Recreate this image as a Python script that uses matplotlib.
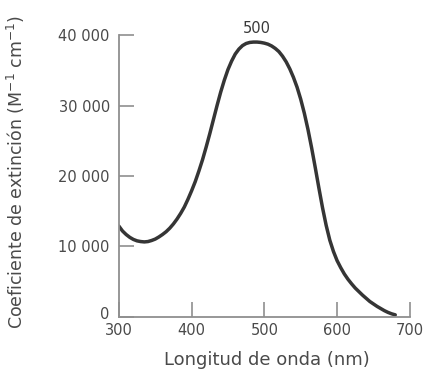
import matplotlib.pyplot as plt
from matplotlib.ticker import FuncFormatter
from matplotlib.transforms import ScaledTranslation

plt.rcParams['font.family'] = ['DejaVu Sans']

# absorption spectrum (nm, M^-1 cm^-1)
wavelength = [300, 305, 310, 315, 320, 325, 330, 335, 340, 345,
              350, 355, 360, 365, 370, 375, 380, 385, 390, 395,
              400, 405, 410, 415, 420, 425, 430, 435, 440, 445,
              450, 455, 460, 465, 470, 475, 480, 485, 490, 495,
              500, 505, 510, 515, 520, 525, 530, 535, 540, 545,
              550, 555, 560, 565, 570, 575, 580, 585, 590, 595,
              600, 605, 610, 615, 620, 625, 630, 635, 640, 645,
              650, 655, 660, 665, 670, 675, 680]
epsilon = [12900, 12200, 11700, 11300, 11000, 10800, 10700, 10650, 10700, 10850,
           11050, 11350, 11700, 12100, 12600, 13200, 13900, 14700, 15600, 16700,
           17900, 19200, 20700, 22300, 24100, 26000, 28000, 30000, 31900, 33600,
           35100, 36300, 37300, 38000, 38500, 38800, 38950, 39000, 39000, 38950,
           38850, 38700, 38450, 38100, 37650, 37000, 36200, 35200, 34000, 32600,
           30900, 28900, 26600, 24000, 21200, 18300, 15500, 13000, 10900, 9300,
           8000, 7000, 6100, 5350, 4700, 4100, 3600, 3100, 2650, 2200,
           1850, 1500, 1200, 900, 650, 450, 300]
x_ticks = [300, 400, 500, 600, 700]
y_ticks = [0, 10000, 20000, 30000, 40000]
peak_label = "500"
peak_x = 490
peak_y = 39000

fig = plt.figure(figsize=(4.26, 3.71), dpi=100)
ax = fig.add_axes([0.279, 0.1456, 0.683, 0.760])

ax.plot(wavelength, epsilon, color='#353535', lw=2.5, solid_capstyle='round')
ax.text(peak_x, peak_y + 800, peak_label, ha='center', va='bottom', fontsize=10.5, color='#3a3a3a')

ax.set_xlim(300, 700)
ax.set_ylim(0, 40000)
ax.set_xticks(x_ticks)
ax.set_yticks(y_ticks)
ax.yaxis.set_major_formatter(FuncFormatter(lambda v, p: f"{int(v):,}".replace(",", " ")))

for s in ['top', 'right']:
    ax.spines[s].set_visible(False)
for s in ['left', 'bottom']:
    ax.spines[s].set_color('#8f8f8f')
    ax.spines[s].set_linewidth(1.3)

ax.tick_params(direction='in', length=10.5, width=1.2, color='#8f8f8f',
               labelsize=10.5, labelcolor='#4a4a4a')
ax.tick_params(axis='y', pad=6.5)
ax.tick_params(axis='x', pad=4.5)

# the "0" sits a little higher so it clears the "300"
zero_lbl = ax.get_yticklabels()[0]
zero_lbl.set_transform(zero_lbl.get_transform() + ScaledTranslation(0, 3 / 72, fig.dpi_scale_trans))

fig.text(266.5 / 426, 1 - 360 / 371, 'Longitud de onda (nm)', ha='center', va='center',
         fontsize=13, color='#4a4a4a')
fig.text(16 / 426, 1 - 172 / 371, 'Coeficiente de extinción (M$^{-1}$ cm$^{-1}$)',
         ha='center', va='center', rotation=90, fontsize=12.5, color='#4a4a4a')

fig.savefig('out.png', dpi=100)
